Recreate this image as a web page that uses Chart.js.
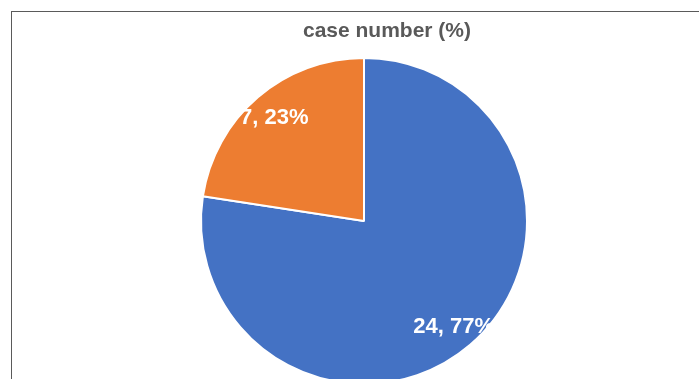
<!DOCTYPE html>
<html>
<head>
<meta charset="utf-8">
<script src="https://cdn.jsdelivr.net/npm/chart.js@4/dist/chart.umd.min.js"></script>
<style>
    html, body { margin: 0; padding: 0; background: #fff; overflow: hidden; }
    #box {
        position: absolute;
        left: 11px;
        top: 11px;
        width: 750px;
        height: 400px;
        border: 1px solid #5a5a5a;
    }
</style>
</head>
<body>
<div id="box"><canvas id="caseChart"></canvas></div>
<script>
// Data kasus
const labels = ['Group A', 'Group B'];
const caseCounts = [24, 7];
const casePercents = [77, 23];
const sliceColors = ['#4472C4', '#ED7D31'];
const chartTitle = 'case number (%)';

// Judul digambar di tengah kotak (bukan tengah area pie)
const boxTitle = {
    id: 'boxTitle',
    afterDraw(chart) {
        const ctx = chart.ctx;
        ctx.save();
        ctx.font = "bold 21px 'Liberation Sans', Arial, sans-serif";
        ctx.fillStyle = '#595959';
        ctx.textAlign = 'center';
        ctx.textBaseline = 'middle';
        ctx.fillText(chartTitle, chart.width / 2, 19);
        ctx.restore();
    }
};

// Plugin untuk menulis "jumlah, persen%" di tiap irisan
const sliceLabels = {
    id: 'sliceLabels',
    afterDatasetsDraw(chart) {
        const ctx = chart.ctx;
        const meta = chart.getDatasetMeta(0);
        ctx.save();
        ctx.font = "bold 22px 'Liberation Sans Narrow', 'Arial Narrow', 'Liberation Sans', sans-serif";
        ctx.fillStyle = '#ffffff';
        ctx.textAlign = 'center';
        ctx.textBaseline = 'middle';
        meta.data.forEach((arc, i) => {
            const mid = (arc.startAngle + arc.endAngle) / 2;
            const r = arc.outerRadius * 0.845;
            const x = arc.x + Math.cos(mid) * r;
            const y = arc.y + Math.sin(mid) * r + 1;
            ctx.fillText(caseCounts[i] + ', ' + casePercents[i] + '%', x, y);
        });
        ctx.restore();
    }
};

const ctx = document.getElementById('caseChart').getContext('2d');
new Chart(ctx, {
    type: 'pie',
    data: {
        labels: labels,
        datasets: [{
            data: caseCounts,
            backgroundColor: sliceColors,
            borderColor: '#ffffff',
            borderWidth: 2
        }]
    },
    options: {
        responsive: true,
        maintainAspectRatio: false,
        animation: false,
        layout: {
            padding: { left: 0, right: 46, top: 45, bottom: 27 }
        },
        plugins: {
            legend: { display: false },
            tooltip: { enabled: false },
            title: { display: false }
        }
    },
    plugins: [sliceLabels, boxTitle]
});
</script>
</body>
</html>
